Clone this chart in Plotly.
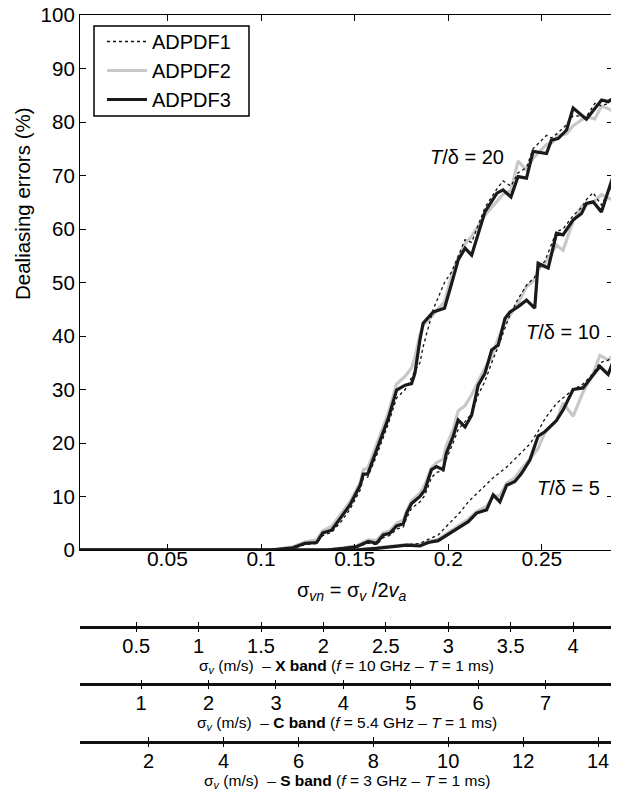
import plotly.graph_objects as go

# ---------------- data ----------------
SERIES = ["ADPDF1", "ADPDF2", "ADPDF3"]

# T/delta = 20
G20_X = [0.0033, 0.105, 0.117, 0.1235, 0.1297, 0.133, 0.1377, 0.143, 0.1475, 0.153,
         0.1546, 0.157, 0.1617, 0.168, 0.1724, 0.177, 0.1804, 0.1822, 0.1849, 0.1866,
         0.192, 0.198, 0.2018, 0.2053, 0.209, 0.2125, 0.2196, 0.226, 0.2293, 0.2335,
         0.2373, 0.2418, 0.2453, 0.2525, 0.2551, 0.2587, 0.2632, 0.2667, 0.2738, 0.2783,
         0.2819, 0.2854, 0.288]
G20_ADPDF1 = [0, 0, 0.3, 1.0, 1.2, 2.7, 3.3, 5.4, 7.6, 11.2,
              13.4, 13.6, 17.6, 23.6, 28.4, 30.0, 32.2, 33.5, 35.0, 38.0,
              45.0, 50.0, 52.0, 55.0, 58.0, 57.5, 64.0, 67.5, 69.0, 68.0,
              70.5, 71.5, 75.0, 77.5, 77.0, 78.0, 79.5, 81.2, 81.0, 83.5,
              83.0, 83.5, 84.6]
G20_ADPDF2 = [0, 0, 0.6, 1.5, 1.9, 3.6, 4.4, 6.8, 9.0, 12.6,
              15.0, 15.3, 19.6, 25.6, 31.0, 32.5, 34.0, 36.0, 40.2, 42.0,
              44.0, 46.4, 51.2, 54.5, 57.2, 58.6, 62.6, 65.2, 66.5, 67.2,
              72.7, 71.0, 73.2, 75.8, 76.0, 77.5, 77.8, 79.3, 81.0, 80.6,
              83.0, 82.5, 82.0]
G20_ADPDF3 = [0, 0, 0.4, 1.25, 1.4, 3.2, 3.7, 6.2, 8.4, 12.1,
              14.2, 14.2, 18.7, 24.6, 29.9, 30.8, 31.1, 33.0, 39.3, 42.4,
              44.5, 45.2, 49.8, 54.2, 56.4, 55.1, 63.2, 66.7, 67.3, 66.0,
              69.8, 69.5, 74.5, 74.1, 76.6, 76.9, 78.5, 82.6, 80.5, 82.6,
              84.1, 83.8, 84.4]

# T/delta = 10
G10_X = [0.0033, 0.135, 0.144, 0.151, 0.1573, 0.1617, 0.1653, 0.1688, 0.1724, 0.176,
         0.1778, 0.1804, 0.1849, 0.1875, 0.191, 0.1937, 0.1973, 0.199, 0.2026, 0.2053,
         0.209, 0.2125, 0.216, 0.2196, 0.2232, 0.2267, 0.2303, 0.233, 0.2374, 0.2418,
         0.2462, 0.248, 0.2516, 0.2534, 0.2578, 0.2613, 0.2667, 0.2712, 0.2738, 0.2774,
         0.2818, 0.288]
G10_ADPDF1 = [0, 0, 0.2, 0.5, 1.3, 1.0, 2.3, 2.7, 3.9, 4.3,
              6.0, 7.8, 9.0, 10.2, 13.5, 14.5, 14.8, 17.0, 20.0, 22.5,
              24.0, 25.5, 29.0, 31.5, 35.0, 38.0, 41.5, 44.0, 47.0, 49.5,
              51.0, 52.5, 54.0, 55.5, 59.5, 60.0, 62.5, 64.0, 65.5, 66.8,
              64.5, 68.5]
G10_ADPDF2 = [0, 0, 0.4, 0.8, 1.9, 1.8, 3.2, 3.6, 5.0, 5.6,
              7.3, 9.2, 10.6, 12.2, 15.4, 16.3, 17.0, 19.5, 22.5, 26.0,
              27.0, 29.0, 31.5, 34.0, 36.0, 39.5, 42.5, 44.0, 46.2, 49.2,
              50.5, 52.5, 53.5, 54.5, 57.0, 56.0, 61.5, 64.2, 64.5, 65.0,
              66.4, 65.4]
G10_ADPDF3 = [0, 0, 0.3, 0.6, 1.6, 1.25, 2.8, 3.1, 4.5, 4.9,
              6.9, 8.7, 10.0, 11.2, 15.0, 15.6, 15.0, 18.1, 21.2, 24.3,
              23.0, 25.2, 30.8, 33.0, 37.4, 38.3, 43.3, 44.5, 45.5, 46.7,
              45.2, 53.6, 53.0, 52.7, 59.2, 58.9, 61.7, 62.9, 64.8, 65.1,
              63.2, 69.8]

# T/delta = 5
G5_X = [0.0033, 0.15, 0.1617, 0.1706, 0.1778, 0.1849, 0.1893, 0.1946, 0.2009, 0.2062,
        0.2107, 0.2151, 0.2205, 0.224, 0.2276, 0.2312, 0.2356, 0.2391, 0.2436, 0.248,
        0.2516, 0.2578, 0.2614, 0.2667, 0.272, 0.2774, 0.281, 0.2854, 0.288]
G5_ADPDF1 = [0, 0, 0.3, 0.7, 1.0, 1.2, 2.0, 2.8, 5.0, 7.0,
             9.0, 10.5, 12.5, 13.5, 14.5, 15.5, 17.0, 18.2, 19.8, 22.2,
             24.5, 27.4, 28.5, 30.0, 31.0, 33.0, 35.0, 35.5, 36.2]
G5_ADPDF2 = [0, 0, 0.4, 0.7, 1.0, 1.0, 1.6, 2.0, 3.4, 4.7,
             5.8, 7.2, 8.2, 10.0, 10.2, 12.5, 13.5, 15.2, 17.0, 19.0,
             22.0, 24.2, 27.5, 25.0, 29.5, 33.0, 36.4, 35.5, 36.4]
G5_ADPDF3 = [0, 0, 0.3, 0.6, 0.9, 0.75, 1.4, 1.75, 3.1, 4.4,
             5.3, 6.9, 7.5, 10.3, 9.0, 12.1, 12.8, 14.3, 16.8, 21.3,
             22.1, 24.2, 26.2, 30.0, 30.3, 32.7, 34.3, 32.8, 35.2]

X_RANGE = [0.00333, 0.288]
X_TICKS = [0.05, 0.1, 0.15, 0.2, 0.25]
X_TICKTEXT = ["0.05", "0.1", "0.15", "0.2", "0.25"]
Y_TICKS = [0, 10, 20, 30, 40, 50, 60, 70, 80, 90, 100]

# secondary sigma_v axes: factor 2*va (m/s) for each band, T = 1 ms
BAND_NAMES = ["X", "C", "S"]
BAND_2VA = [15.0, 27.78, 50.0]
BAND_TICKS = [[0.5, 1, 1.5, 2, 2.5, 3, 3.5, 4],
              [1, 2, 3, 4, 5, 6, 7],
              [2, 4, 6, 8, 10, 12, 14]]
BAND_TICKTEXT = [["0.5", "1", "1.5", "2", "2.5", "3", "3.5", "4"],
                 ["1", "2", "3", "4", "5", "6", "7"],
                 ["2", "4", "6", "8", "10", "12", "14"]]
BAND_TITLES = [
    "σ<sub><i>v</i></sub> (m/s)  – <b>X band</b> (<i>f</i> = 10 GHz – <i>T</i> = 1 ms)",
    "σ<sub><i>v</i></sub> (m/s)  – <b>C band</b> (<i>f</i> = 5.4 GHz – <i>T</i> = 1 ms)",
    "σ<sub><i>v</i></sub> (m/s)  – <b>S band</b> (<i>f</i> = 3 GHz – <i>T</i> = 1 ms)",
]

GROUP_LABELS = ["<i>T</i>/δ = 20", "<i>T</i>/δ = 10", "<i>T</i>/δ = 5"]
GROUP_LABEL_POS = [(0.2098, 73.5), (0.2612, 40.8), (0.2644, 11.6)]

# ---------------- layout geometry ----------------
# the page body adds an 8 px margin, so the figure is made 8 px smaller and all
# reference page coordinates are shifted by OFF
OFF = 8
W, H = 619 - OFF, 792 - OFF
ML, MR, MT, MB = 80 - OFF, 6, 15 - OFF, 2
PH = H - MT - MB
PW = W - ML - MR


def py(pix):
    return (H - MB - (pix - OFF)) / PH


def px(pix):
    return (pix - OFF - ML) / PW


FONT = "Liberation Sans, Arial, Helvetica, sans-serif"

STYLES = {
    "ADPDF1": dict(color="#111111", width=1.3, dash="dot"),
    "ADPDF2": dict(color="#c8c8c8", width=3.2, dash="solid"),
    "ADPDF3": dict(color="#1a1a1a", width=3.2, dash="solid"),
}

groups = [
    (G20_X, {"ADPDF1": G20_ADPDF1, "ADPDF2": G20_ADPDF2, "ADPDF3": G20_ADPDF3}),
    (G10_X, {"ADPDF1": G10_ADPDF1, "ADPDF2": G10_ADPDF2, "ADPDF3": G10_ADPDF3}),
    (G5_X, {"ADPDF1": G5_ADPDF1, "ADPDF2": G5_ADPDF2, "ADPDF3": G5_ADPDF3}),
]

fig = go.Figure()
draw_order = ["ADPDF2", "ADPDF1", "ADPDF3"]
for name in draw_order:
    for gi, (gx, gvals) in enumerate(groups):
        fig.add_trace(go.Scatter(
            x=gx, y=gvals[name], mode="lines", name=name,
            line=STYLES[name], legendgroup=name,
            showlegend=(gi == 0), legendrank=SERIES.index(name) + 1,
            hoverinfo="skip",
        ))

# ---------------- axes ----------------
fig.update_layout(
    template="none",
    width=W, height=H,
    margin=dict(l=ML, r=MR, t=MT, b=MB, autoexpand=False),
    paper_bgcolor="white", plot_bgcolor="white",
    font=dict(family=FONT, size=20, color="black"),
    xaxis=dict(domain=[0, 1], range=X_RANGE, tickvals=X_TICKS, showticklabels=False,
               ticks="inside", ticklen=6, tickwidth=1, tickcolor="black",
               showline=True, linecolor="black", linewidth=1.2, mirror="ticks",
               showgrid=False, zeroline=False, anchor="y", automargin=False),
    # tick labels of the main x axis, sitting slightly closer to the frame
    xaxis8=dict(overlaying="x", anchor="free", position=py(544), range=X_RANGE,
                tickvals=X_TICKS, ticktext=X_TICKTEXT, ticks="", showline=False,
                showgrid=False, zeroline=False, automargin=False, side="bottom",
                ticklabeloverflow="allow", tickfont=dict(size=21)),
    yaxis=dict(domain=[py(550), 1], range=[0, 100], tickvals=Y_TICKS,
               ticks="inside", ticklen=6, tickwidth=1, tickcolor="black",
               showline=True, linecolor="black", linewidth=1.2, mirror="ticks",
               showgrid=False, zeroline=False, anchor="x", automargin=False,
               ticklabeloverflow="allow", tickfont=dict(size=20.5)),
    legend=dict(x=px(102), y=py(22), xanchor="left", yanchor="top",
                borderwidth=0, bgcolor="rgba(0,0,0,0)",
                font=dict(size=20), tracegroupgap=0, itemwidth=40),
    showlegend=True,
)
fig.add_trace(go.Scatter(x=[None], y=[None], xaxis="x8", yaxis="y",
                         showlegend=False, hoverinfo="skip"))

# legend frame
fig.add_shape(type="rect", xref="paper", yref="paper",
              x0=px(94), x1=px(249), y0=py(116), y1=py(26),
              line=dict(color="black", width=1.5), fillcolor="white", layer="below")

band_line_pix = [627, 684.3, 741.7]
band_title_pix = [666, 723.5, 781]
axis_idx = 2
for bi in range(3):
    rng = [X_RANGE[0] * BAND_2VA[bi], X_RANGE[1] * BAND_2VA[bi]]
    pos = py(band_line_pix[bi])
    # labelled axis with ticks above the line
    fig.layout["xaxis%d" % axis_idx] = dict(
        overlaying="x", anchor="free", position=pos, range=rng,
        tickvals=BAND_TICKS[bi], ticktext=BAND_TICKTEXT[bi],
        ticks="inside", ticklen=4, tickwidth=1, tickcolor="black",
        showline=True, linecolor="#111111", linewidth=2.6, automargin=False,
        ticklabeloverflow="allow",
        showgrid=False, zeroline=False, tickfont=dict(size=20), side="bottom")
    fig.add_trace(go.Scatter(x=[None], y=[None], xaxis="x%d" % axis_idx, yaxis="y",
                             showlegend=False, hoverinfo="skip"))
    axis_idx += 1
    # tick marks below the line
    fig.layout["xaxis%d" % axis_idx] = dict(
        overlaying="x", anchor="free", position=pos, range=rng,
        tickvals=BAND_TICKS[bi], showticklabels=False, automargin=False,
        ticks="outside", ticklen=4, tickwidth=1, tickcolor="black",
        showline=False, showgrid=False, zeroline=False, side="bottom")
    fig.add_trace(go.Scatter(x=[None], y=[None], xaxis="x%d" % axis_idx, yaxis="y",
                             showlegend=False, hoverinfo="skip"))
    axis_idx += 1
    fig.add_annotation(text=BAND_TITLES[bi], xref="paper", yref="paper",
                       x=0.5, y=py(band_title_pix[bi]), xanchor="center", yanchor="middle",
                       showarrow=False, font=dict(size=15.5))

# axis titles
fig.add_annotation(text="σ<sub><i>vn</i></sub> = σ<sub><i>v</i></sub> /2<i>v</i><sub><i>a</i></sub>",
                   xref="paper", yref="paper", x=px(352), y=py(591),
                   xanchor="center", yanchor="middle", showarrow=False, font=dict(size=20))
fig.add_annotation(text="Dealiasing errors (%)", xref="paper", yref="paper",
                   x=px(22), y=py(204), xanchor="center", yanchor="middle",
                   textangle=-90, showarrow=False, font=dict(size=20.5))

for lab, (lx, ly) in zip(GROUP_LABELS, GROUP_LABEL_POS):
    fig.add_annotation(text=lab, xref="x", yref="y", x=lx, y=ly,
                       xanchor="center", yanchor="middle", showarrow=False,
                       font=dict(size=20))

fig.write_html("out.html")
